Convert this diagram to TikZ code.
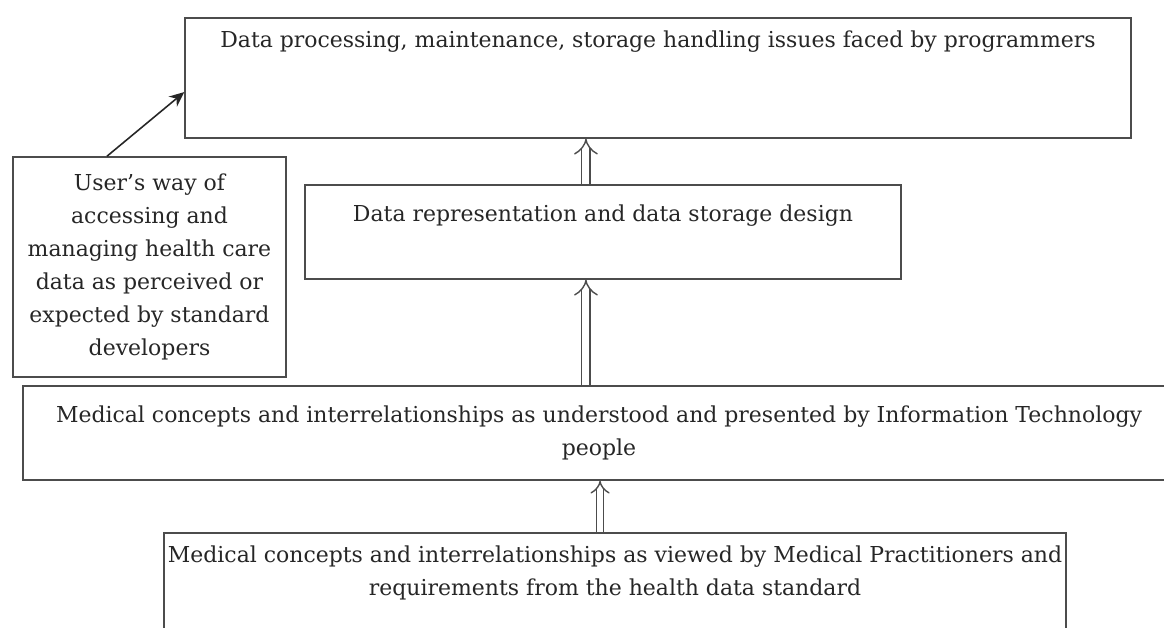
\documentclass[tikz,border=0pt]{standalone}
\usepackage{fontspec}
\setmainfont{DejaVu Serif}
\usetikzlibrary{arrows.meta, positioning}

\begin{document}
\begin{tikzpicture}[
    x=0.02cm, y=-0.02cm,
    box/.style={rectangle, draw=black!70, line width=0.9pt},
    txt/.style={align=center, text=black!85, font=\fontsize{12.5}{18.8}\selectfont},
    hollow/.style={draw=black!70, line width=0.8pt, double=white, double distance=4pt, -{Implies}},
    arrow/.style={draw=black!85, line width=0.9pt, -{Stealth[length=3mm, width=2.6mm]}}
]
\useasboundingbox (0,0) rectangle (1164,628);

\node (top) [box, minimum width=18.92cm, minimum height=2.4cm] at (658,78) {};
\node (toptxt) [txt, below=4pt of top.north] {Data processing, maintenance, storage handling issues faced by programmers};

\node (mid) [box, minimum width=11.92cm, minimum height=1.88cm] at (603,232) {};
\node (midtxt) [txt, below=8pt of mid.north] {Data representation and data storage design};

\node (usr) [box, txt, minimum width=5.46cm, minimum height=4.4cm] at (149.5,267) {User's way of\\ accessing and\\ managing health care\\ data as perceived or\\ expected by standard\\ developers};

\node (it) [box, txt, minimum width=23.04cm, minimum height=1.88cm] at (599,433) {Medical concepts and interrelationships as understood and presented by Information Technology\\ people};

\node (bot) [box, minimum width=18.04cm, minimum height=2.54cm] at (615,596.5) {};
\node (bottxt) [txt, below=4pt of bot.north] {Medical concepts and interrelationships as viewed by Medical Practitioners and\\ requirements from the health data standard};

\draw [hollow] ([xshift=-9.7pt]mid.north) -- ([xshift=-9.7pt]mid.north |- top.south);
\draw [hollow] ([xshift=-9.7pt]mid.south |- it.north) -- ([xshift=-9.7pt]mid.south);
\draw [hollow, double distance=3pt] ([xshift=-8.5pt]bot.north) -- ([xshift=-8.5pt]bot.north |- it.south);

\draw [arrow] ([xshift=-24.2pt]usr.north) -- ([yshift=-8pt]top.west);
\end{tikzpicture}
\end{document}
